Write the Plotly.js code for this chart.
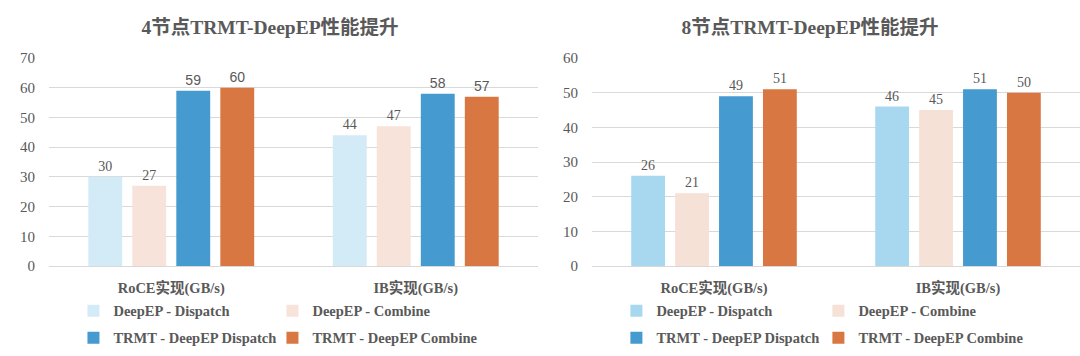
<!DOCTYPE html>
<html>
<head>
<meta charset="utf-8">
<script src="https://cdn.plot.ly/plotly-3.0.1.min.js"></script>
<style>
  html, body { margin: 0; padding: 0; background: #ffffff; }
  #wrap { position: relative; width: 1080px; height: 356px; overflow: hidden; }
  #c4 { position: absolute; left: 0; top: 0; width: 540px; height: 356px; }
  #c8 { position: absolute; left: 540px; top: 0; width: 540px; height: 356px; }
</style>
</head>
<body>
<div id="wrap"><div id="c4"></div><div id="c8"></div></div>
<script>
// ---- data ----
const categories = ['RoCE实现(GB/s)', 'IB实现(GB/s)'];
const seriesNames = ['DeepEP - Dispatch', 'DeepEP - Combine', 'TRMT - DeepEP Dispatch', 'TRMT - DeepEP Combine'];
const title4 = '4节点TRMT-DeepEP性能提升';
const title8 = '8节点TRMT-DeepEP性能提升';
const node4DeepEPDispatch = [30, 44];
const node4DeepEPCombine = [27, 47];
const node4TrmtDispatch = [59, 58];
const node4TrmtCombine = [60, 57];
const node8DeepEPDispatch = [26, 46];
const node8DeepEPCombine = [21, 45];
const node8TrmtDispatch = [49, 51];
const node8TrmtCombine = [51, 50];
const yTicks4 = [0, 10, 20, 30, 40, 50, 60, 70];
const yTicks8 = [0, 10, 20, 30, 40, 50, 60];

// ---- styling ----
const SERIF = '"Liberation Serif", "Times New Roman", "Noto Sans CJK SC", serif';
const SANS = '"Liberation Sans", Arial, sans-serif';
const GREY = '#595959';

function makeTrace(name, values, color, legendId, labelFont) {
  return {
    type: 'bar', name: name, x: categories, y: values,
    marker: { color: color, line: { width: 0 } },
    text: values.map(String), textposition: 'outside',
    textfont: { family: labelFont, size: 14, color: GREY },
    cliponaxis: false, legend: legendId, hoverinfo: 'skip'
  };
}

function legendCfg(x, y) {
  return {
    orientation: 'h', x: x, xanchor: 'left', y: y, yanchor: 'middle',
    font: { family: SERIF, size: 14.5, color: GREY, weight: 'bold' },
    bgcolor: 'rgba(0,0,0,0)', itemclick: false, itemdoubleclick: false
  };
}

function makeLayout(title, ticks, maxY, marginL, marginR, col2) {
  const col1 = 0.05, row1 = -0.215, row2 = -0.345;
  return {
    width: 540, height: 356,
    margin: { l: marginL, r: marginR, t: 58, b: 90 },
    paper_bgcolor: '#ffffff', plot_bgcolor: '#ffffff',
    title: {
      text: title, x: 0.5, xref: 'container', xanchor: 'center',
      y: 1 - 27 / 356, yref: 'container', yanchor: 'middle',
      font: { family: SERIF, size: 19.5, color: GREY, weight: 'bold' }
    },
    barmode: 'group', bargap: 0.28, bargroupgap: 0.23,
    xaxis: {
      type: 'category', showgrid: false, zeroline: false, showline: false,
      ticks: '', ticklabelstandoff: 11,
      tickfont: { family: SERIF, size: 14.5, color: GREY, weight: 'bold' },
      fixedrange: true
    },
    yaxis: {
      range: [0, maxY], tickmode: 'array', tickvals: ticks, ticktext: ticks.map(String),
      showgrid: true, gridcolor: '#d9d9d9', gridwidth: 1,
      zeroline: true, zerolinecolor: '#d9d9d9', zerolinewidth: 1,
      showline: false, ticks: '', ticklabelstandoff: 13,
      tickfont: { family: SERIF, size: 15, color: GREY },
      fixedrange: true
    },
    legend: legendCfg(col1, row1),
    legend2: legendCfg(col2, row1),
    legend3: legendCfg(col1, row2),
    legend4: legendCfg(col2, row2),
    showlegend: true
  };
}

const traces4 = [
  makeTrace(seriesNames[0], node4DeepEPDispatch, '#d3ebf7', 'legend', SERIF),
  makeTrace(seriesNames[1], node4DeepEPCombine, '#f7e3da', 'legend2', SERIF),
  makeTrace(seriesNames[2], node4TrmtDispatch, '#459acf', 'legend3', SANS),
  makeTrace(seriesNames[3], node4TrmtCombine, '#d97742', 'legend4', SANS)
];
const traces8 = [
  makeTrace(seriesNames[0], node8DeepEPDispatch, '#a8d8f0', 'legend', SERIF),
  makeTrace(seriesNames[1], node8DeepEPCombine, '#f6e1d7', 'legend2', SERIF),
  makeTrace(seriesNames[2], node8TrmtDispatch, '#459acf', 'legend3', SERIF),
  makeTrace(seriesNames[3], node8TrmtCombine, '#d97742', 'legend4', SERIF)
];

const cfg = { displayModeBar: false, staticPlot: true };
Plotly.newPlot('c4', traces4, makeLayout(title4, yTicks4, 70, 49, 2, 0.05 + 199 / 489), cfg);
Plotly.newPlot('c8', traces8, makeLayout(title8, yTicks8, 60, 52, 0, 0.05 + 202 / 488), cfg);
</script>
</body>
</html>
